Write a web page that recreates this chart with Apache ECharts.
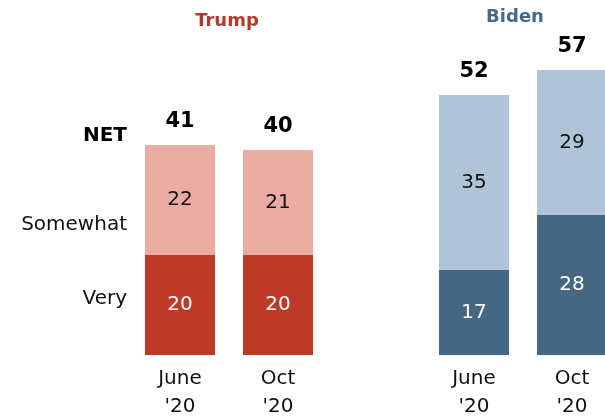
<!DOCTYPE html>
<html>
<head>
<meta charset="utf-8">
<script src="https://cdn.jsdelivr.net/npm/echarts@6/dist/echarts.min.js"></script>
<style>
  html, body { margin: 0; padding: 0; background: #fff; }
  #chart { width: 605px; height: 416px; }
</style>
</head>
<body>
<div id="chart"></div>
<script>
// Survey periods shown under each candidate's pair of bars
const periods = ["June\n'20", "Oct\n'20"];

// Trump supporters: share "very" and "somewhat" enthusiastic, plus the NET figure
const trumpVery = [20, 20];
const trumpSomewhat = [22, 21];
const trumpNet = [41, 40];

// Biden supporters
const bidenVery = [17, 28];
const bidenSomewhat = [35, 29];
const bidenNet = [52, 57];

const candidates = ['Trump', 'Biden'];
const rowLabels = ['NET', 'Somewhat', 'Very'];

const FONT = 'DejaVu Sans';
const colors = {
  trumpDark: '#bd3a29', trumpLight: '#eaaba3',
  bidenDark: '#466882', bidenLight: '#afc5d7',
  trumpTitle: '#b8372a', bidenTitle: '#46698a'
};

// One category axis: two Trump slots, an empty spacer slot, two Biden slots
const categories = [...periods, '', ...periods];

function items(trumpVals, bidenVals, trumpColor, bidenColor) {
  return [
    ...trumpVals.map(v => ({ value: v, itemStyle: { color: trumpColor } })),
    '-',
    ...bidenVals.map(v => ({ value: v, itemStyle: { color: bidenColor } }))
  ];
}

const netValues = [...trumpNet, null, ...bidenNet];

const chart = echarts.init(document.getElementById('chart'));

chart.setOption({
  animation: false,
  grid: {
    left: 131, top: 55, width: 490, bottom: 61,
    containLabel: false, outerBoundsMode: 'none'
  },
  xAxis: {
    type: 'category',
    data: categories,
    axisLine: { show: false },
    axisTick: { show: false },
    axisLabel: {
      interval: 0,
      margin: 10,
      fontFamily: FONT,
      fontSize: 20,
      lineHeight: 28,
      color: '#111'
    }
  },
  yAxis: { type: 'value', min: 0, max: 60, show: false },
  series: [
    {
      name: 'Very',
      type: 'bar',
      stack: 'total',
      barWidth: 70,
      clip: false,
      data: items(trumpVery, bidenVery, colors.trumpDark, colors.bidenDark),
      label: {
        show: true, position: 'inside',
        fontFamily: FONT, fontSize: 20, color: '#fff'
      }
    },
    {
      name: 'Somewhat',
      type: 'bar',
      stack: 'total',
      barWidth: 70,
      clip: false,
      data: items(trumpSomewhat, bidenSomewhat, colors.trumpLight, colors.bidenLight),
      label: {
        show: true, position: 'inside',
        fontFamily: FONT, fontSize: 20, color: '#111'
      }
    },
    {
      // Zero-height cap on each stack carrying the NET label
      name: 'NET',
      type: 'bar',
      stack: 'total',
      barWidth: 70,
      clip: false,
      data: netValues.map(v => (v == null ? '-' : 0)),
      itemStyle: { color: 'transparent' },
      label: {
        show: true, position: 'top', distance: 13,
        fontFamily: FONT, fontSize: 21, fontWeight: 'bold', color: '#000',
        formatter: p => netValues[p.dataIndex]
      }
    }
  ],
  graphic: [
    {
      type: 'text', x: 227, y: 21,
      style: { text: candidates[0], fontFamily: FONT, fontSize: 18, fontWeight: 'bold',
               fill: colors.trumpTitle, align: 'center', verticalAlign: 'middle' }
    },
    {
      type: 'text', x: 515, y: 17,
      style: { text: candidates[1], fontFamily: FONT, fontSize: 18, fontWeight: 'bold',
               fill: colors.bidenTitle, align: 'center', verticalAlign: 'middle' }
    },
    {
      type: 'text', x: 127, y: 136,
      style: { text: rowLabels[0], fontFamily: FONT, fontSize: 20, fontWeight: 'bold',
               fill: '#000', align: 'right', verticalAlign: 'middle' }
    },
    {
      type: 'text', x: 127, y: 225,
      style: { text: rowLabels[1], fontFamily: FONT, fontSize: 20,
               fill: '#111', align: 'right', verticalAlign: 'middle' }
    },
    {
      type: 'text', x: 127, y: 299,
      style: { text: rowLabels[2], fontFamily: FONT, fontSize: 20,
               fill: '#111', align: 'right', verticalAlign: 'middle' }
    }
  ]
});
</script>
</body>
</html>
